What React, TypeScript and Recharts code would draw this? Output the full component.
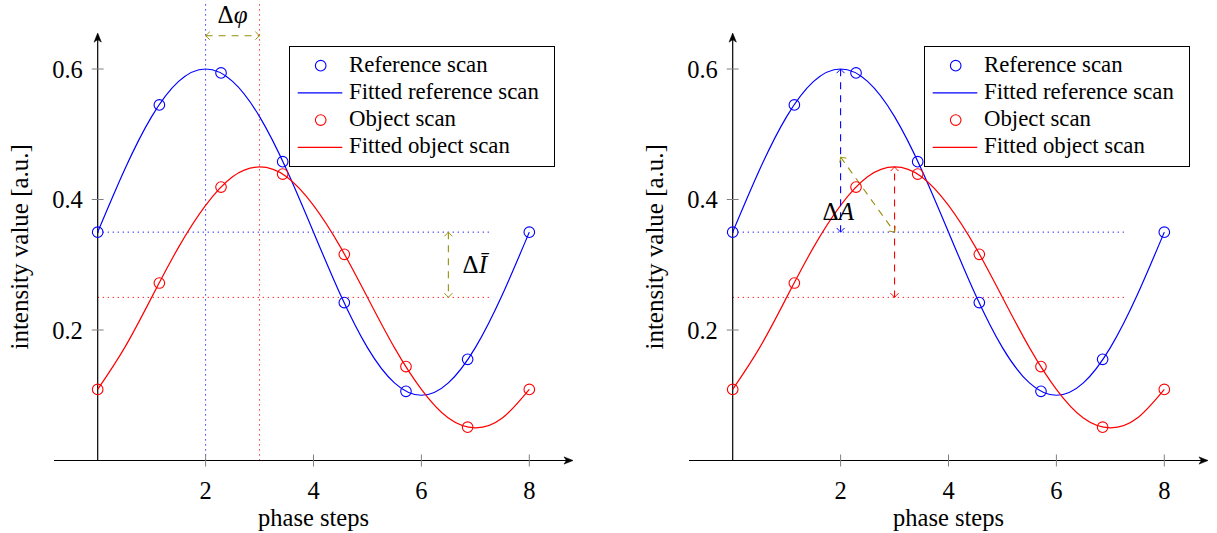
import React from 'react';
import {
  ComposedChart,
  Line,
  Scatter,
  XAxis,
  YAxis,
  ReferenceLine,
  ReferenceDot,
  Legend,
} from 'recharts';

const FONT = '"Liberation Serif", "Times New Roman", serif';

// ---- data ----
const SCAN_X = [0, 1.143, 2.286, 3.429, 4.571, 5.714, 6.857, 8];
const REFERENCE_SCAN = [0.35, 0.545, 0.594, 0.458, 0.242, 0.106, 0.155, 0.35];
const OBJECT_SCAN = [0.109, 0.272, 0.419, 0.439, 0.316, 0.144, 0.051, 0.109];

const FIT_X = [0, 0.5, 1, 1.5, 2, 2.5, 3, 3.5, 4, 4.5, 5, 5.5, 6, 6.5, 7, 7.5, 8];
const REFERENCE_FIT = [0.35, 0.446, 0.527, 0.581, 0.6, 0.581, 0.527, 0.446, 0.35, 0.254, 0.173, 0.119, 0.1, 0.119, 0.173, 0.254, 0.35];
const OBJECT_FIT = [0.109, 0.173, 0.25, 0.327, 0.391, 0.435, 0.45, 0.435, 0.391, 0.327, 0.25, 0.173, 0.109, 0.065, 0.05, 0.065, 0.109];

const X_TICKS = [2, 4, 6, 8];
const Y_TICKS = [0.2, 0.4, 0.6];
const LEGEND_LABELS = ['Reference scan', 'Fitted reference scan', 'Object scan', 'Fitted object scan'];

const MEAN_LEVELS = [0.35, 0.25]; // reference mean, object mean
const PEAK_PHASES = [2, 3]; // reference peak phase, object peak phase
const PEAK_VALUES = [0.6, 0.45];
const MEAN_LINE_END = 7.25;
const DPHI_LEVEL = 0.651;
const DI_PHASE = 6.5;
const DA_START = 0.465;

const X_DOMAIN = [-0.81, 8.81];
const Y_DOMAIN = [0, 0.705];
const Y_AXIS_TOP = 0.655;

const BLUE = '#0000ff';
const RED = '#ff0000';
const OLIVE = '#94900a';
const GRAY = '#808080';

const refScanData = SCAN_X.map((x, i) => ({ x, y: REFERENCE_SCAN[i] }));
const objScanData = SCAN_X.map((x, i) => ({ x, y: OBJECT_SCAN[i] }));
const refFitData = FIT_X.map((x, i) => ({ x, y: REFERENCE_FIT[i] }));
const objFitData = FIT_X.map((x, i) => ({ x, y: OBJECT_FIT[i] }));

type Head = 'none' | 'open' | 'stealth';

function headEl(tx: number, ty: number, ang: number, kind: Head, color: string, key: string) {
  if (kind === 'none') return null;
  const c = Math.cos(ang);
  const s = Math.sin(ang);
  const pt = (back: number, side: number) => {
    const px = tx - back * c - side * s;
    const py = ty - back * s + side * c;
    return `${px},${py}`;
  };
  if (kind === 'open') {
    return (
      <path
        key={key}
        d={`M${pt(4.2, 4)} Q${pt(1.2, 1)} ${tx},${ty} Q${pt(1.2, -1)} ${pt(4.2, -4)}`}
        fill="none"
        stroke={color}
        strokeWidth={1}
      />
    );
  }
  return (
    <path
      key={key}
      d={`M${tx},${ty} L${pt(9, 3.6)} L${pt(6.5, 0)} L${pt(9, -3.6)} Z`}
      fill={color}
      stroke={color}
      strokeWidth={0.6}
      strokeLinejoin="round"
    />
  );
}

const arrowShape = (color: string, width: number, dash: string | undefined, startHead: Head, endHead: Head) =>
  (p: any) => {
    const { x1, y1, x2, y2 } = p;
    const ang = Math.atan2(y2 - y1, x2 - x1);
    const shortenEnd = endHead === 'stealth' ? 6 : 0;
    const ex = x2 - shortenEnd * Math.cos(ang);
    const ey = y2 - shortenEnd * Math.sin(ang);
    return (
      <g>
        <line x1={x1} y1={y1} x2={ex} y2={ey} stroke={color} strokeWidth={width} strokeDasharray={dash} />
        {headEl(x1, y1, ang + Math.PI, startHead, color, 's')}
        {headEl(x2, y2, ang, endHead, color, 'e')}
      </g>
    );
  };

const textLabel = (parts: { t: string; italic?: boolean }[], size: number, rotate = false) =>
  (props: any) => {
    const vb = props.viewBox || { x: 0, y: 0, width: 0, height: 0 };
    const cx = vb.x + (vb.width || 0) / 2;
    const cy = vb.y + (vb.height || 0) / 2;
    return (
      <text
        x={cx}
        y={cy}
        textAnchor="middle"
        fontFamily={FONT}
        fontSize={size}
        fill="#000"
        transform={rotate ? `rotate(-90 ${cx} ${cy})` : undefined}
      >
        {parts.map((p, i) => (
          <tspan key={i} fontStyle={p.italic ? 'italic' : 'normal'}>
            {p.t}
          </tspan>
        ))}
      </text>
    );
  };

const LEGEND_ITEMS = [
  { label: LEGEND_LABELS[0], color: BLUE, kind: 'circle' },
  { label: LEGEND_LABELS[1], color: BLUE, kind: 'line' },
  { label: LEGEND_LABELS[2], color: RED, kind: 'circle' },
  { label: LEGEND_LABELS[3], color: RED, kind: 'line' },
];

const LegendBox = () => (
  <div
    style={{
      width: 266,
      height: 121,
      border: '1px solid #000',
      boxSizing: 'border-box',
      background: '#fff',
    }}
  >
    <svg width={264} height={119} style={{ display: 'block' }}>
      {LEGEND_ITEMS.map((item, i) => {
        const cy = 18.7 + i * 27.2;
        return (
          <g key={item.label}>
            {item.kind === 'circle' ? (
              <circle cx={30.7} cy={cy} r={5.3} fill="none" stroke={item.color} strokeWidth={1.1} />
            ) : (
              <line x1={7.7} y1={cy} x2={52.3} y2={cy} stroke={item.color} strokeWidth={1.2} />
            )}
            <text x={59} y={cy + 5.8} fontFamily={FONT} fontSize={22.8} fill="#000">
              {item.label}
            </text>
          </g>
        );
      })}
    </svg>
  </div>
);

const circleShape = (color: string) => (p: any) =>
  <circle cx={p.cx} cy={p.cy} r={5.3} fill="none" stroke={color} strokeWidth={1.1} />;

function Panel({ variant, width }: { variant: 'phase' | 'amplitude'; width: number }) {
  const right = width - 573;
  return (
    <ComposedChart width={width} height={533} margin={{ top: 0.5, right, bottom: 42.5, left: 54 }}>
      <XAxis
        type="number"
        dataKey="x"
        domain={X_DOMAIN}
        allowDataOverflow
        ticks={X_TICKS}
        interval={0}
        height={30}
        axisLine={false}
        tickLine={false}
        tickMargin={15.3}
        tick={{ fontSize: 24.5, fill: '#000', fontFamily: FONT }}
      />
      <YAxis type="number" dataKey="y" domain={Y_DOMAIN} allowDataOverflow hide width={0} />

      {/* guide lines */}
      {variant === 'phase' && (
        <ReferenceLine x={PEAK_PHASES[0]} stroke={BLUE} strokeWidth={1} strokeDasharray="1.2 3.8" ifOverflow="visible" />
      )}
      {variant === 'phase' && (
        <ReferenceLine x={PEAK_PHASES[1]} stroke={RED} strokeWidth={1} strokeDasharray="1.2 3.8" ifOverflow="visible" />
      )}
      <ReferenceLine
        segment={[{ x: 0, y: MEAN_LEVELS[0] }, { x: MEAN_LINE_END, y: MEAN_LEVELS[0] }]}
        stroke={BLUE}
        strokeWidth={1}
        strokeDasharray="1.2 3.8"
        ifOverflow="visible"
      />
      <ReferenceLine
        segment={[{ x: 0, y: MEAN_LEVELS[1] }, { x: MEAN_LINE_END, y: MEAN_LEVELS[1] }]}
        stroke={RED}
        strokeWidth={1}
        strokeDasharray="1.2 3.8"
        ifOverflow="visible"
      />

      {/* axes */}
      <ReferenceLine
        segment={[{ x: X_DOMAIN[0], y: 0 }, { x: X_DOMAIN[1], y: 0 }]}
        ifOverflow="visible"
        shape={arrowShape('#000', 1.2, undefined, 'none', 'stealth')}
      />
      <ReferenceLine
        segment={[{ x: 0, y: 0 }, { x: 0, y: Y_AXIS_TOP }]}
        ifOverflow="visible"
        shape={arrowShape('#000', 1.2, undefined, 'none', 'stealth')}
      />
      {X_TICKS.map((t) => (
        <ReferenceLine
          key={'xt' + t}
          segment={[{ x: t, y: -0.0092 }, { x: t, y: 0.0092 }]}
          stroke={GRAY}
          strokeWidth={1}
          ifOverflow="visible"
        />
      ))}
      {Y_TICKS.map((t) => (
        <ReferenceLine
          key={'yt' + t}
          segment={[{ x: -0.11, y: t }, { x: 0.11, y: t }]}
          stroke={GRAY}
          strokeWidth={1}
          ifOverflow="visible"
          label={{ value: String(t), position: 'left', offset: 9, fill: '#000', fontSize: 24.5, fontFamily: FONT }}
        />
      ))}

      {/* series */}
      <Line data={refFitData} dataKey="y" type="natural" stroke={BLUE} strokeWidth={1.2} dot={false} isAnimationActive={false} name={LEGEND_LABELS[1]} />
      <Line data={objFitData} dataKey="y" type="natural" stroke={RED} strokeWidth={1.2} dot={false} isAnimationActive={false} name={LEGEND_LABELS[3]} />
      <Scatter data={refScanData} dataKey="y" shape={circleShape(BLUE)} isAnimationActive={false} name={LEGEND_LABELS[0]} />
      <Scatter data={objScanData} dataKey="y" shape={circleShape(RED)} isAnimationActive={false} name={LEGEND_LABELS[2]} />

      {/* annotations */}
      {variant === 'phase' && (
        <ReferenceLine
          segment={[{ x: PEAK_PHASES[0], y: DPHI_LEVEL }, { x: PEAK_PHASES[1], y: DPHI_LEVEL }]}
          ifOverflow="visible"
          shape={arrowShape(OLIVE, 1.1, '7 6', 'open', 'open')}
        />
      )}
      {variant === 'phase' && (
        <ReferenceLine
          segment={[{ x: DI_PHASE, y: MEAN_LEVELS[0] }, { x: DI_PHASE, y: MEAN_LEVELS[1] }]}
          ifOverflow="visible"
          shape={arrowShape(OLIVE, 1.1, '7 6', 'open', 'open')}
        />
      )}
      {variant === 'phase' && (
        <ReferenceDot x={2.5} y={0.67} r={0} stroke="none" fill="none" ifOverflow="visible"
          label={textLabel([{ t: 'Δ' }, { t: 'φ', italic: true }], 25)} />
      )}
      {variant === 'phase' && (
        <ReferenceDot x={6.99} y={0.2869} r={0} stroke="none" fill="none" ifOverflow="visible"
          label={textLabel([{ t: 'Δ' }, { t: 'Ī', italic: true }], 25)} />
      )}
      {variant === 'amplitude' && (
        <ReferenceLine
          segment={[{ x: PEAK_PHASES[0], y: MEAN_LEVELS[0] }, { x: PEAK_PHASES[0], y: PEAK_VALUES[0] }]}
          ifOverflow="visible"
          shape={arrowShape(BLUE, 1.1, '7 6', 'open', 'open')}
        />
      )}
      {variant === 'amplitude' && (
        <ReferenceLine
          segment={[{ x: PEAK_PHASES[1], y: MEAN_LEVELS[1] }, { x: PEAK_PHASES[1], y: PEAK_VALUES[1] }]}
          ifOverflow="visible"
          shape={arrowShape(RED, 1.1, '7 6', 'open', 'open')}
        />
      )}
      {variant === 'amplitude' && (
        <ReferenceLine
          segment={[{ x: PEAK_PHASES[0], y: DA_START }, { x: PEAK_PHASES[1], y: MEAN_LEVELS[0] }]}
          ifOverflow="visible"
          shape={arrowShape(OLIVE, 1.1, '7 6', 'open', 'open')}
        />
      )}
      {variant === 'amplitude' && (
        <ReferenceDot x={1.957} y={0.3686} r={0} stroke="none" fill="none" ifOverflow="visible"
          label={textLabel([{ t: 'Δ' }, { t: 'A', italic: true }], 25)} />
      )}

      {/* axis titles */}
      <ReferenceDot x={4} y={-0.1011} r={0} stroke="none" fill="none" ifOverflow="visible"
        label={textLabel([{ t: 'phase steps' }], 24.5)} />
      <ReferenceDot x={-1.292} y={0.3275} r={0} stroke="none" fill="none" ifOverflow="visible"
        label={textLabel([{ t: 'intensity value [a.u.]' }], 25, true)} />

      <Legend
        layout="vertical"
        align="center"
        verticalAlign="middle"
        wrapperStyle={{ left: 289, top: 46, width: 266, height: 121 }}
        content={() => <LegendBox />}
      />
    </ComposedChart>
  );
}

export default function App() {
  return (
    <div style={{ position: 'absolute', left: 0, top: 0, width: 1217, height: 533, background: '#fff', overflow: 'hidden' }}>
      <div style={{ position: 'absolute', left: 0, top: 0 }}>
        <Panel variant="phase" width={600} />
      </div>
      <div style={{ position: 'absolute', left: 635, top: 0 }}>
        <Panel variant="amplitude" width={582} />
      </div>
    </div>
  );
}
